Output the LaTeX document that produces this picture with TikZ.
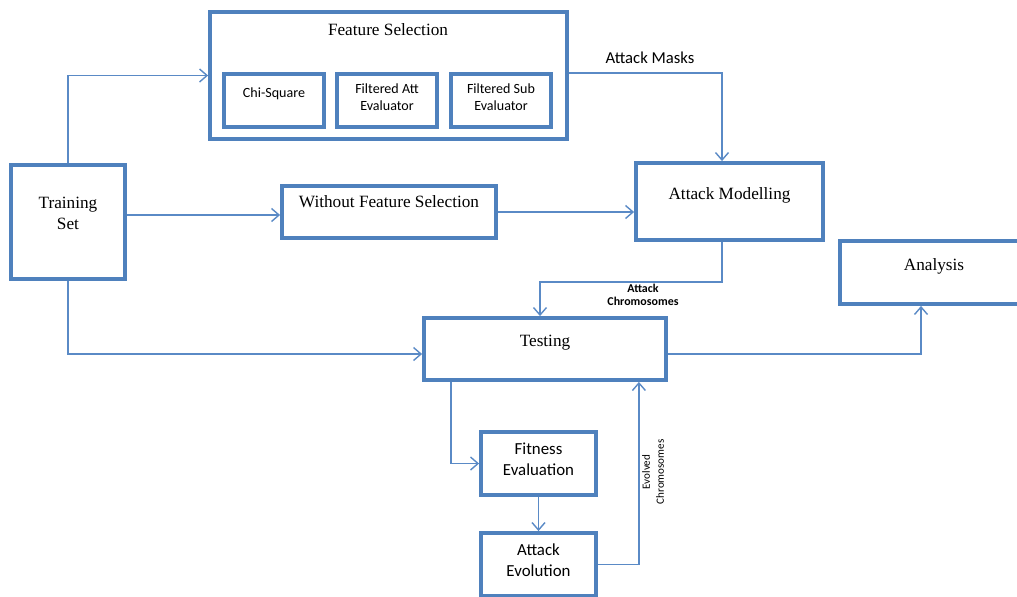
\documentclass[tikz,border=0pt]{standalone}
\usepackage{fontspec}
\setmainfont{Liberation Serif}
\newfontfamily\calfont{Carlito}
\usetikzlibrary{arrows.meta, positioning, calc}
\definecolor{BoxBlue}{HTML}{4F81BD}
\definecolor{LineBlue}{HTML}{5A8AC6}
\tikzset{
  box/.style={draw=BoxBlue, line width=2.2pt, fill=white, align=center, inner sep=2pt, font=\fontsize{9.8}{12}\selectfont},
  smallbox/.style={draw=BoxBlue, line width=2pt, fill=white, align=center, minimum width=2cm, minimum height=1.06cm, inner sep=2pt, text depth=0.14cm, font=\calfont\fontsize{8}{10}\selectfont},
  gabox/.style={draw=BoxBlue, line width=2.2pt, fill=white, align=center, minimum width=2.3cm, minimum height=1.26cm, inner sep=2pt, text depth=0.17cm, font=\calfont\fontsize{9.6}{12}\selectfont},
  arrow/.style={-{Straight Barb[length=1.5mm, width=2.6mm]}, line width=0.8pt, draw=LineBlue},
  lbl/.style={font=\calfont\fontsize{9.5}{11}\selectfont, inner sep=1pt, align=center}
}

\begin{document}
\begin{tikzpicture}[x=0.02cm, y=-0.02cm]
\useasboundingbox (0,0) rectangle (1017,596);
% feature selection group
\node[box, minimum width=7.14cm, minimum height=2.54cm] (fs) at (388.5,75.5) {};
\node[font=\fontsize{9.8}{12}\selectfont] (fstitle) at (388,30) {Feature Selection};
\node[smallbox, text depth=0.3cm] (chi) at (274,100.5) {Chi-Square};
\node[smallbox] (fatt) at (387,100.5) {Filtered Att\\Evaluator};
\node[smallbox] (fsub) at (501,100.5) {Filtered Sub\\Evaluator};
% main boxes
\node[box, minimum width=2.28cm, minimum height=2.28cm, text depth=0.36cm] (train) at (68,222) {Training\\Set};
\node[box, minimum width=4.28cm, minimum height=1.04cm, text depth=0.42cm] (wofs) at (389,212) {Without Feature Selection};
\node[box, minimum width=3.74cm, minimum height=1.54cm, text depth=0.32cm] (am) at (729.5,201.5) {Attack Modelling};
\node[box, minimum width=3.76cm, minimum height=1.26cm, text depth=0.32cm] (ana) at (934,272.5) {Analysis};
\node[box, minimum width=4.84cm, minimum height=1.24cm, text depth=0.34cm] (test) at (545,349) {Testing};
\node[gabox] (fit) at (538.5,463.5) {Fitness\\Evaluation};
\node[gabox] (evo) at (538.5,564.5) {Attack\\Evolution};
% labels
\node[lbl] (masks) at (650,58) {Attack Masks};
\node[lbl, font=\calfont\bfseries\fontsize{6.8}{7.4}\selectfont] (chrom) at (643,294.5) {Attack\\Chromosomes};
\node[lbl, font=\calfont\fontsize{6.3}{8}\selectfont, rotate=90] (evchrom) at (653,472) {Evolved\\Chromosomes};
% connectors
\draw[arrow] (train.north) |- (fs.west);
\draw[arrow] (train.east |- 0,215) -- (wofs.west |- 0,215);
\draw[arrow] (wofs.east) -- (am.west |- wofs.east);
\draw[arrow] (fs.east |- 0,73) -| ([xshift=-0.15cm]am.north);
\draw[arrow] ([xshift=-0.15cm]am.south) -- ++(0,40) -| ([xshift=-0.1cm]test.north);
\draw[arrow] (train.south) |- ([yshift=-0.1cm]test.west);
\draw[arrow] ([yshift=-0.1cm]test.east) -| ([xshift=-0.26cm]ana.south);
\draw[arrow] ([xshift=0.58cm]test.south west) |- (fit.west);
\draw[arrow] (fit) -- (evo);
\draw[arrow] (evo.east) -| ([xshift=-0.58cm]test.south east);
\end{tikzpicture}
\end{document}
